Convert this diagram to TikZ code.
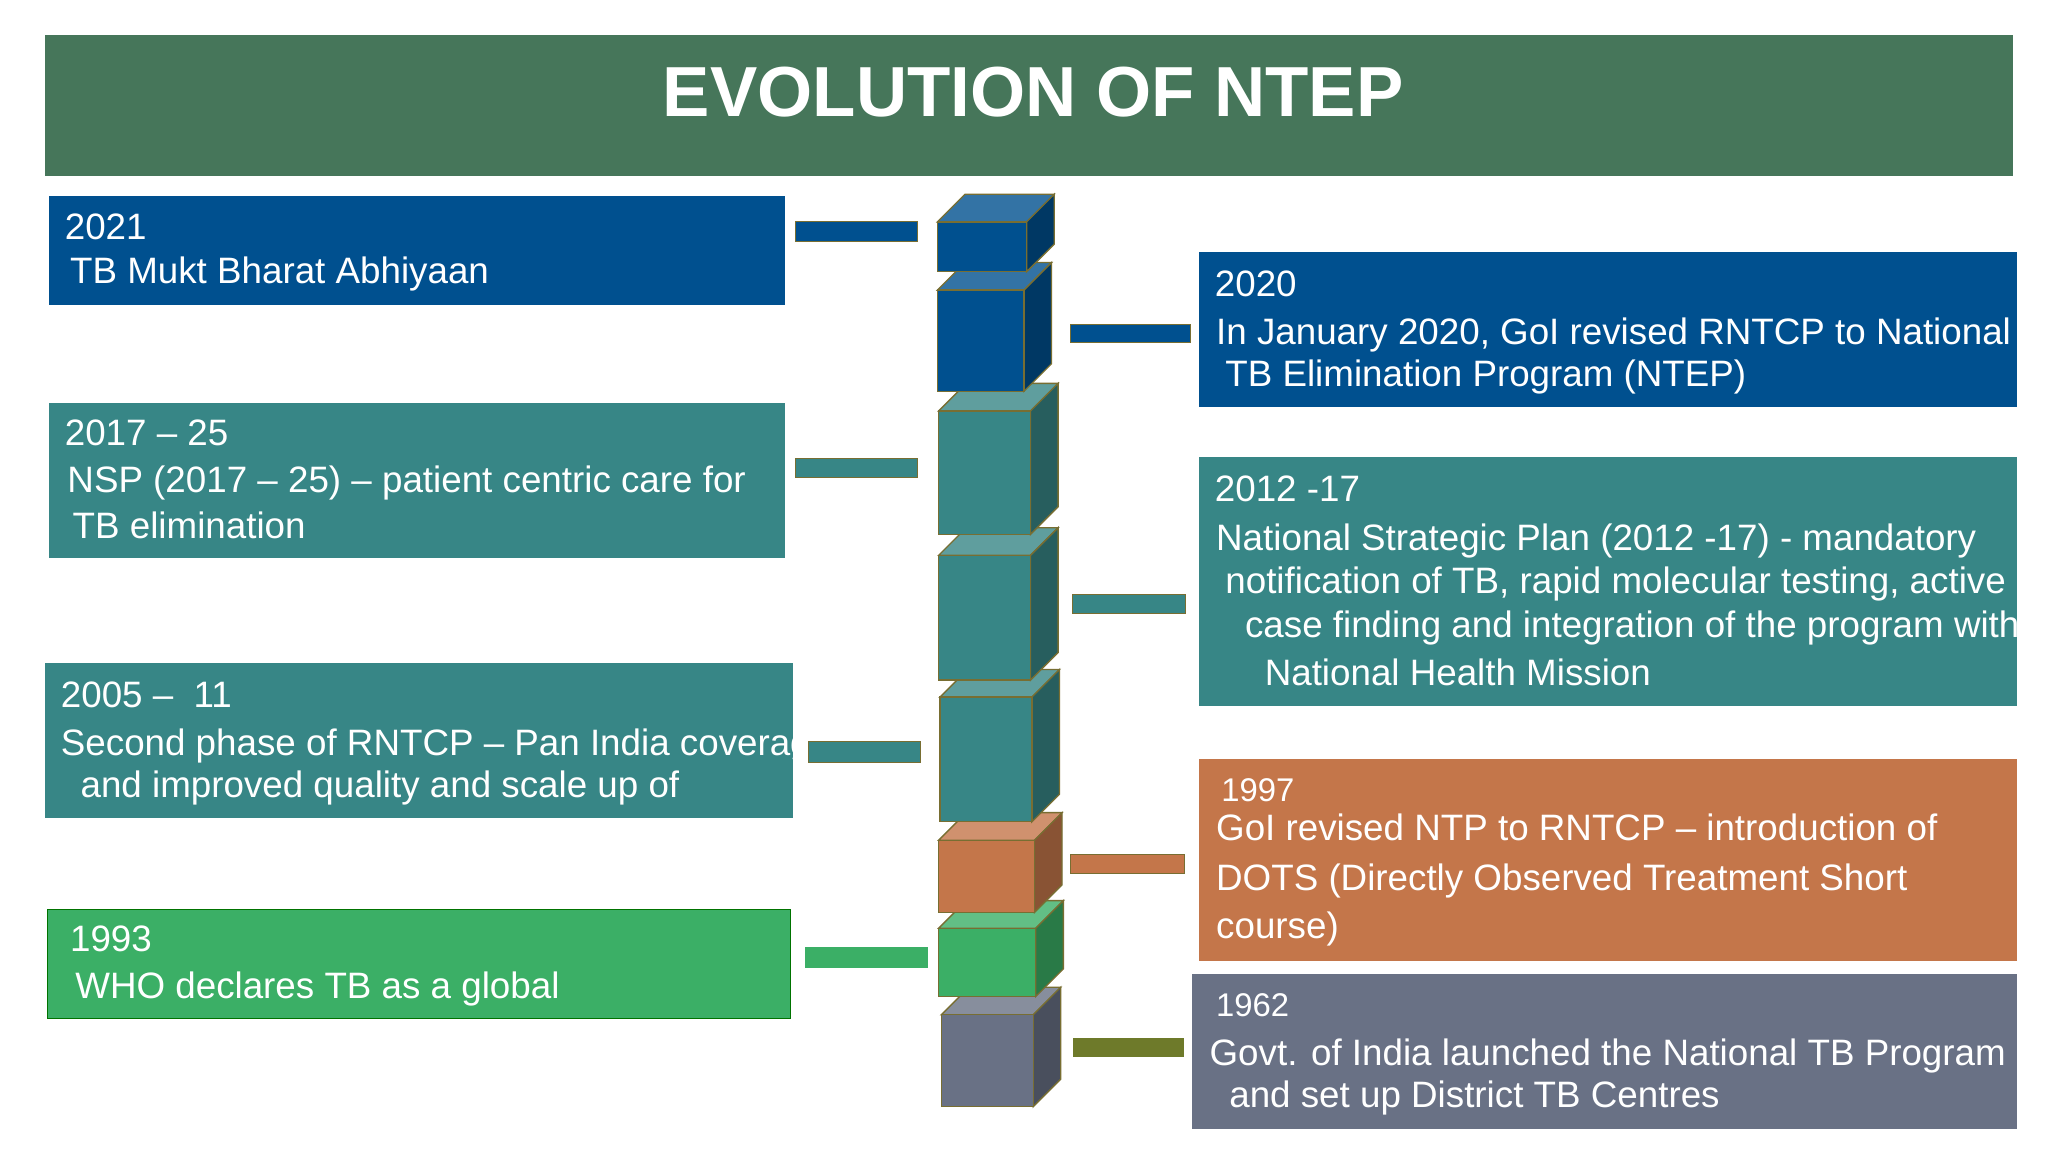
\documentclass[tikz,border=0pt]{standalone}
\usepackage{fontspec}
\setmainfont{Liberation Sans}
\definecolor{titlegreen}{RGB}{70,118,90}
\definecolor{cblue}{RGB}{0,80,143}
\definecolor{cteal}{RGB}{55,134,134}
\definecolor{cgreen}{RGB}{59,175,102}
\definecolor{corange}{RGB}{196,118,74}
\definecolor{cgray}{RGB}{105,113,133}
\definecolor{colive}{RGB}{110,122,42}
\definecolor{edge}{RGB}{120,110,50}
\tikzset{
  txt/.style={anchor=west,text=white,font=\fontsize{14}{17}\selectfont,inner sep=0pt},
  box/.style={anchor=north west,inner sep=0pt,draw=none},
}
\newcommand\mycube[5]{%
  \fill[#5!80!white,draw=edge,line width=0.5pt] (#1,#2)--++(21,-21)--(#3+21,#2-21)--(#3,#2)--cycle;
  \fill[#5!70!black,draw=edge,line width=0.5pt] (#3,#2)--++(21,-21)--(#3+21,#4-21)--(#3,#4)--cycle;
  \fill[#5,draw=edge,line width=0.5pt] (#1,#2) rectangle (#3,#4);
}
\begin{document}
\begin{tikzpicture}[x=0.5pt,y=-0.5pt]
\useasboundingbox[fill=white] (0,0) rectangle (1560,877.5);
% title
\fill[titlegreen] (34,27) rectangle (1533,134);
\node[text=white,font=\fontsize{27}{30}\selectfont\bfseries] (title) at (787,70) {EVOLUTION OF NTEP};
% left boxes
\fill[cblue] (37,149) rectangle (598,232);
\node[txt] (t2021) at (49,173) {2021};
\node[txt] (d2021) at (53,209) {TB Mukt Bharat Abhiyaan};
\fill[cteal] (37,307) rectangle (598,425);
\node[txt] (t2017) at (49,330) {2017 -- 25};
\node[txt] (d2017a) at (51,368) {NSP (2017 -- 25) -- patient centric care for};
\node[txt] (d2017b) at (55,400) {TB elimination};
\fill[cteal] (34,505) rectangle (604,623);
\node[txt] (t2005) at (46,529) {2005 --\ \ 11};
\node[txt] (d2005a) at (46,568) {Second phase of RNTCP -- Pan India coverage};
\node[txt] (d2005b) at (61,600) {and improved quality and scale up of};
\fill[cgreen,draw=green!45!black] (36,693) rectangle (602,776);
\node[txt] (t1993) at (53,715) {1993};
\node[txt] (d1993) at (57,753) {WHO declares TB as a global};
% right boxes
\fill[cblue] (913,192) rectangle (1536,310);
\node[txt] (t2020) at (925,216) {2020};
\node[txt] (d2020a) at (926,255) {In January 2020, GoI revised RNTCP to National};
\node[txt] (d2020b) at (933,287) {TB Elimination Program (NTEP)};
\fill[cteal] (913,348) rectangle (1536,538);
\node[txt] (t2012) at (925,372) {2012 -17};
\node[txt] (d2012a) at (926,412) {National Strategic Plan (2012 -17) - mandatory};
\node[txt] (d2012b) at (933,445) {notification of TB, rapid molecular testing, active};
\node[txt] (d2012c) at (948,478) {case finding and integration of the program with};
\node[txt] (d2012d) at (963,512) {National Health Mission};
\fill[corange] (913,578) rectangle (1536,732);
\node[txt,font=\fontsize{12.5}{15}\selectfont] (t1997) at (930,602) {1997};
\node[txt] (d1997a) at (926,630) {GoI revised NTP to RNTCP -- introduction of};
\node[txt] (d1997b) at (926,671) {DOTS (Directly Observed Treatment Short};
\node[txt] (d1997c) at (926,708) {course)};
\fill[cgray] (908,742) rectangle (1536,860);
\node[txt,font=\fontsize{12.5}{15}\selectfont] (t1962) at (926,766) {1962};
\node[txt] (d1962a) at (921,804) {Govt. of India launched the National TB Program};
\node[txt] (d1962b) at (936,836) {and set up District TB Centres};
% connector bars
\fill[cblue,draw=edge,line width=0.3pt] (606,169) rectangle (699,184);
\fill[cteal,draw=edge,line width=0.3pt] (606,349) rectangle (699,364);
\fill[cteal,draw=edge,line width=0.3pt] (616,565) rectangle (701,581);
\fill[cgreen] (613,721) rectangle (707,737);
\fill[cblue,draw=edge,line width=0.3pt] (815,247) rectangle (907,261);
\fill[cteal,draw=edge,line width=0.3pt] (817,453) rectangle (903,467);
\fill[corange,draw=edge,line width=0.3pt] (815,651) rectangle (902,665);
\fill[colive] (817,791) rectangle (902,805);
% cubes, bottom up
\mycube{717}{773}{787}{843}{cgray}
\mycube{715}{707}{789}{759}{cgreen}
\mycube{715}{640}{788}{695}{corange}
\mycube{716}{531}{786}{626}{cteal}
\mycube{715}{423}{785}{518}{cteal}
\mycube{715}{313}{785}{407}{cteal}
\mycube{714}{221}{780}{298}{cblue}
\mycube{714}{169}{782}{207}{cblue}
\end{tikzpicture}
\end{document}
